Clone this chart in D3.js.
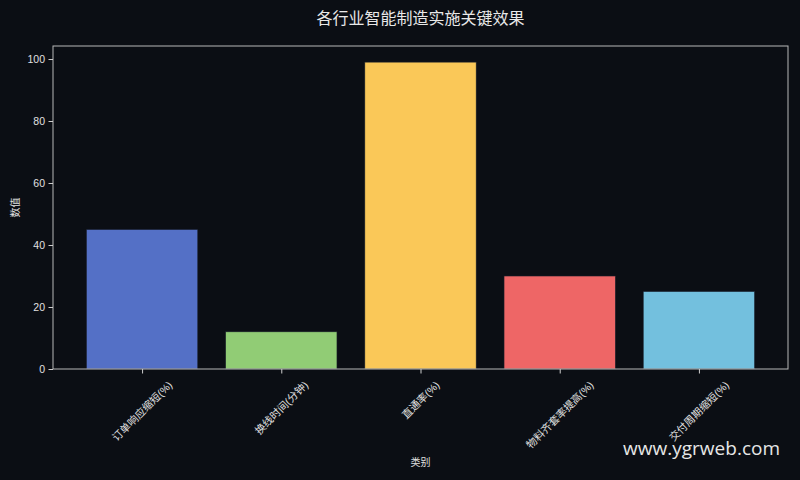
<!DOCTYPE html>
<html><head><meta charset="utf-8">
<script src="https://cdn.jsdelivr.net/npm/d3@7/dist/d3.min.js"></script>
<style>
html,body{margin:0;padding:0;background:#0b0e14;}
svg{display:block;}
</style></head>
<body>
<script>
const categories = ["订单响应缩短(%)", "换线时间(分钟)", "直通率(%)", "物料齐套率提高(%)", "交付周期缩短(%)"];
const values = [45, 12, 99, 30, 25];
const colors = ["#5470c6", "#91cc75", "#fac858", "#ee6666", "#73c0de"];
const yTicks = [0, 20, 40, 60, 80, 100];
const title = "各行业智能制造实施关键效果";
const xLabel = "类别";
const yLabel = "数值";
const watermark = "www.ygrweb.com";

const W = 800, H = 480;
const m = {left: 53, right: 12, top: 46, bottom: 111};
const fontCJK = "'Liberation Sans','Noto Sans CJK SC',sans-serif";

const svg = d3.select("body").append("svg").attr("width", W).attr("height", H);
svg.append("rect").attr("width", W).attr("height", H).attr("fill", "#0b0e14");

const x = d3.scaleLinear().domain([-0.64, categories.length - 1 + 0.64]).range([m.left, W - m.right]);
const y = d3.scaleLinear().domain([0, 104.2]).range([H - m.bottom, m.top]);
const bw = (x(0.8) - x(0));

const g = svg.append("g");
g.selectAll("rect.bar").data(values).join("rect")
  .attr("class", "bar")
  .attr("x", (d, i) => x(i) - bw / 2)
  .attr("width", bw)
  .attr("y", d => y(d))
  .attr("height", d => y(0) - y(d))
  .attr("fill", (d, i) => colors[i])
  .attr("stroke", "#1a1f2b").attr("stroke-width", 0.6);

// frame
svg.append("rect")
  .attr("x", m.left).attr("y", m.top)
  .attr("width", W - m.right - m.left).attr("height", H - m.bottom - m.top)
  .attr("fill", "none").attr("stroke", "#b8b8b8").attr("stroke-width", 1);

// y axis
const yAxis = svg.append("g").attr("transform", `translate(${m.left},0)`)
  .call(d3.axisLeft(y).tickValues(yTicks).tickSize(4.5).tickPadding(3.5));
yAxis.select(".domain").remove();
yAxis.selectAll("line").attr("stroke", "#cfcfcf");
yAxis.selectAll("text").attr("fill", "#e0e0e0").style("font-family", fontCJK).style("font-size", "10.5px");

// x axis
const xAxis = svg.append("g").attr("transform", `translate(0,${H - m.bottom})`)
  .call(d3.axisBottom(x).tickValues(d3.range(categories.length)).tickSize(4.5).tickFormat(""));
xAxis.select(".domain").remove();
xAxis.selectAll("line").attr("stroke", "#cfcfcf");

// rotated x labels, centred on tick
categories.forEach((c, i) => {
  const t = svg.append("text").text(c)
    .attr("fill", "#e0e0e0").style("font-family", fontCJK).style("font-size", "10.5px")
    .attr("text-anchor", "middle").attr("dominant-baseline", "central");
  const L = t.node().getComputedTextLength();
  const h = 11;
  const s = (L + h) / Math.SQRT2;
  t.attr("transform", `translate(${x(i)},${H - m.bottom + 10 + s / 2}) rotate(-45)`);
});

svg.append("text").text(title)
  .attr("x", (m.left + W - m.right) / 2).attr("y", 24)
  .attr("text-anchor", "middle").attr("fill", "#e8e8e8")
  .style("font-family", fontCJK).style("font-size", "16px");

svg.append("text").text(xLabel)
  .attr("x", (m.left + W - m.right) / 2).attr("y", 466)
  .attr("text-anchor", "middle").attr("fill", "#e0e0e0")
  .style("font-family", fontCJK).style("font-size", "10px");

svg.append("text").text(yLabel)
  .attr("transform", `translate(19,${(m.top + H - m.bottom) / 2}) rotate(-90)`)
  .attr("text-anchor", "middle").attr("fill", "#e0e0e0")
  .style("font-family", fontCJK).style("font-size", "10px");

svg.append("text").text(watermark)
  .attr("x", 780).attr("y", 455)
  .attr("text-anchor", "end").attr("fill", "#e6e6e6")
  .style("font-family", "'Open Sans','Noto Sans',sans-serif").style("font-size", "19px");
</script>
</body></html>
